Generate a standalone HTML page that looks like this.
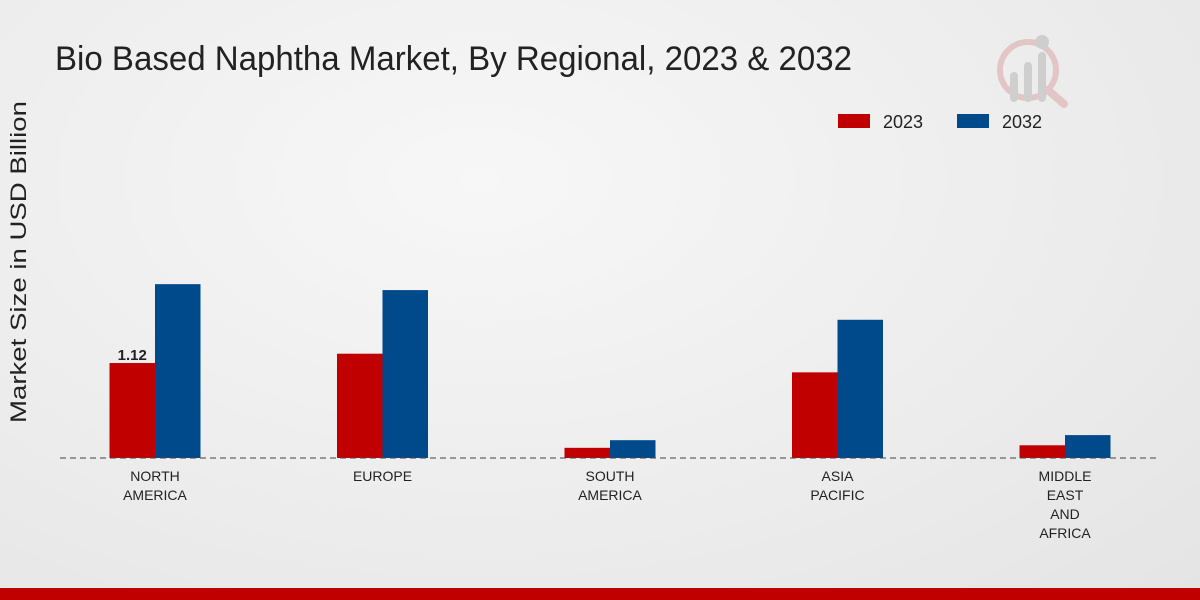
<!DOCTYPE html>
<html><head><meta charset="utf-8">
<style>
html,body{margin:0;padding:0;width:1200px;height:600px;overflow:hidden;}
body{background:radial-gradient(ellipse at 40% 30%,#f7f7f7 0%,#ececec 60%,#e4e4e4 100%);font-family:"Liberation Sans",sans-serif;}
</style></head>
<body>
<svg id="chart" width="1200" height="600" xmlns="http://www.w3.org/2000/svg">
<text x="55" y="70" font-size="34" fill="#222" textLength="797" lengthAdjust="spacingAndGlyphs">Bio Based Naphtha Market, By Regional, 2023 &amp; 2032</text>
<text transform="translate(26,262) rotate(-90)" text-anchor="middle" font-size="22" fill="#222" textLength="322" lengthAdjust="spacingAndGlyphs">Market Size in USD Billion</text>
<g opacity="0.35">
<circle cx="1028" cy="70" r="28" fill="none" stroke="#d08080" stroke-width="6"/>
<line x1="1048" y1="90" x2="1064" y2="104" stroke="#d08080" stroke-width="8" stroke-linecap="round"/>
<rect x="1010" y="72" width="8" height="30" rx="4" fill="#999"/>
<rect x="1024" y="62" width="8" height="40" rx="4" fill="#999"/>
<rect x="1038" y="52" width="8" height="50" rx="4" fill="#999"/>
<circle cx="1042" cy="42" r="7" fill="#999"/>
</g>
<g>
<rect x="838" y="114" width="32" height="14" fill="#c00000"/>
<text x="883" y="128" font-size="18" fill="#222">2023</text>
<rect x="957" y="114" width="32" height="14" fill="#004a8b"/>
<text x="1002" y="128" font-size="18" fill="#222">2032</text>
</g>
<g id="bars"></g>
<line x1="60" y1="458" x2="1160" y2="458" stroke="#444" stroke-width="1" stroke-dasharray="6,4"/>
<g id="labels"></g>
<rect x="0" y="588" width="1200" height="12" fill="#c00000"/>
</svg>
<script>
const categories = [["NORTH","AMERICA"],["EUROPE"],["SOUTH","AMERICA"],["ASIA","PACIFIC"],["MIDDLE","EAST","AND","AFRICA"]];
const values2023 = [1.12, 1.23, 0.12, 1.01, 0.15];
const values2032 = [2.05, 1.98, 0.21, 1.63, 0.27];
const NS = "http://www.w3.org/2000/svg";
const baseY = 458, pxPerUnit = 84.8, x0 = 155, step = 227.5, bw = 45.5;
function yScale(v){ return baseY - v*pxPerUnit; }
function xCenter(i){ return x0 + i*step; }
const bars = document.getElementById('bars');
const labels = document.getElementById('labels');
categories.forEach((c,i)=>{
  const cx = xCenter(i);
  [[values2023,'#c00000',cx-bw,'2023'],[values2032,'#004a8b',cx,'2032']].forEach(([arr,col,x,yr])=>{
    const r = document.createElementNS(NS,'rect');
    r.setAttribute('x',x); r.setAttribute('y',yScale(arr[i]));
    r.setAttribute('width',bw); r.setAttribute('height',baseY-yScale(arr[i]));
    r.setAttribute('fill',col);
    
    
    bars.appendChild(r);
  });
  c.forEach((line,j)=>{
    const t = document.createElementNS(NS,'text');
    t.setAttribute('x',cx); t.setAttribute('y',481+j*19);
    t.setAttribute('text-anchor','middle'); t.setAttribute('font-size','14'); t.setAttribute('fill','#222');
    t.textContent = line;
    
    
    labels.appendChild(t);
  });
});
const v = document.createElementNS(NS,'text');
v.setAttribute('x',xCenter(0)-bw/2); v.setAttribute('y',yScale(values2023[0])-3);
v.setAttribute('text-anchor','middle'); v.setAttribute('font-size','15'); v.setAttribute('font-weight','bold'); v.setAttribute('fill','#222');
v.textContent = values2023[0].toFixed(2);


labels.appendChild(v);
</script>
</body></html>
